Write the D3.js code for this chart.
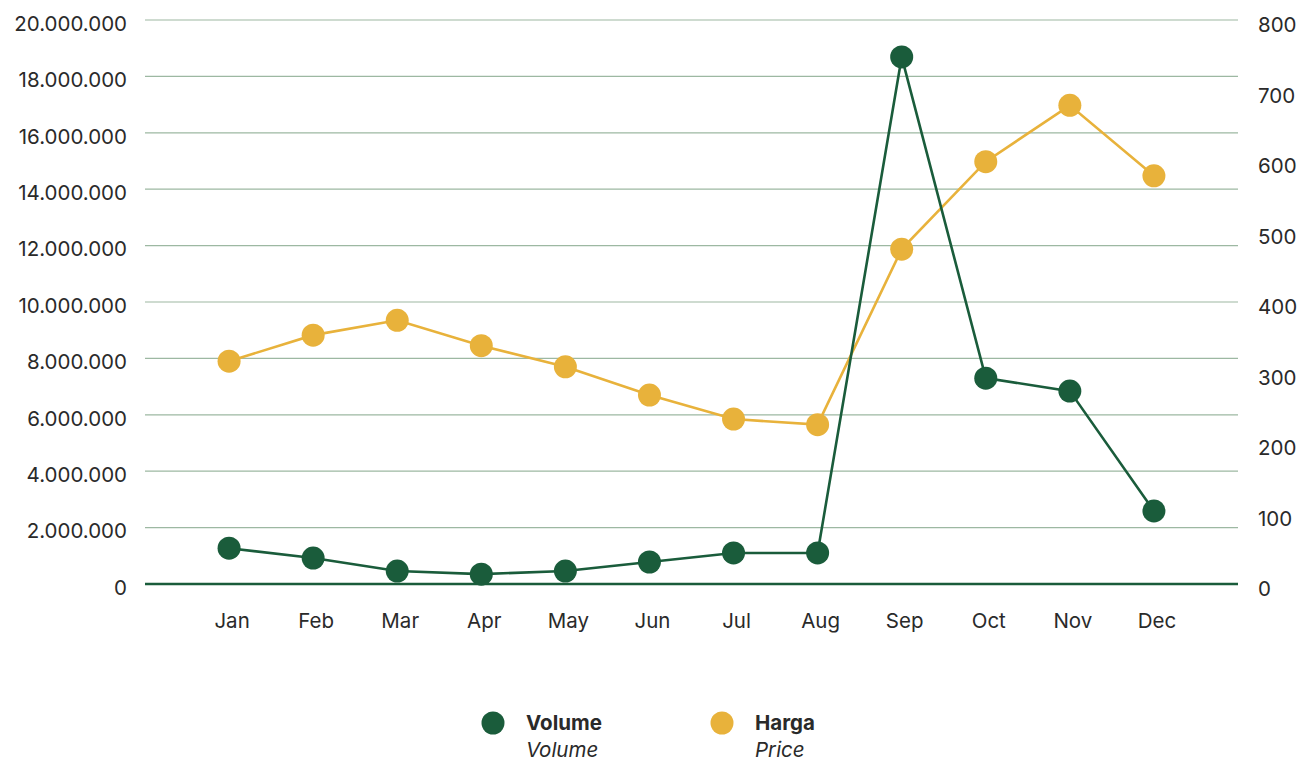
<!DOCTYPE html>
<html>
<head>
<meta charset="utf-8">
<script src="https://cdn.jsdelivr.net/npm/d3@7"></script>
<style>
  body { margin: 0; background: #fff; }
  svg text { font-family: "Inter", "Noto Sans", sans-serif; }
  .axis text { font-size: 20.5px; fill: #2a2a2a; }
  .legend text { font-size: 20.5px; fill: #2a2a2a; }
</style>
</head>
<body>
<svg id="chart" width="1312" height="763"></svg>
<script>
var months = ["Jan", "Feb", "Mar", "Apr", "May", "Jun", "Jul", "Aug", "Sep", "Oct", "Nov", "Dec"];
var volume = [1270000, 920000, 460000, 350000, 460000, 780000, 1100000, 1100000, 18690000, 7300000, 6840000, 2590000];
var harga = [316, 353, 374, 338, 308, 268, 234, 226, 475, 599, 679, 579];
var leftTicks = [0, 2000000, 4000000, 6000000, 8000000, 10000000, 12000000, 14000000, 16000000, 18000000, 20000000];
var rightTicks = [0, 100, 200, 300, 400, 500, 600, 700, 800];

var green = "#1a5c3b", yellow = "#e8b23b", grid = "#9db8a2";
var margin = {left: 145, right: 74, top: 20, bottom: 179},
    W = 1312, H = 763,
    width = W - margin.left - margin.right,
    height = H - margin.top - margin.bottom;

var svg = d3.select("#chart").append("g")
  .attr("transform", "translate(" + margin.left + "," + margin.top + ")");

var x = d3.scalePoint().domain(months).range([0, width]).padding(1);
var yL = d3.scaleLinear().domain([0, 20000000]).range([height, 0]);
var yR = d3.scaleLinear().domain([0, 800]).range([height, 0]);

var fmt = function(v) { return d3.format(",")(v).replace(/,/g, "."); };

// gridlines
svg.selectAll(".grid").data(leftTicks.slice(1))
  .enter().append("line")
  .attr("class", "grid")
  .attr("x1", 0).attr("x2", width)
  .attr("y1", function(d) { return yL(d); })
  .attr("y2", function(d) { return yL(d); })
  .style("stroke", grid).style("stroke-width", 1.2);

svg.append("line")
  .attr("x1", 0).attr("x2", width)
  .attr("y1", yL(0)).attr("y2", yL(0))
  .style("stroke", green).style("stroke-width", 2.5);

// axes, lines hidden, labels only
var leftAxis = svg.append("g").attr("class", "axis")
  .call(d3.axisLeft(yL).tickValues(leftTicks).tickFormat(fmt).tickSize(0).tickPadding(18));
leftAxis.select(".domain").remove();
leftAxis.selectAll("text").attr("dy", "0.5em");

var rightAxis = svg.append("g").attr("class", "axis")
  .attr("transform", "translate(" + width + ",0)")
  .call(d3.axisRight(yR).tickValues(rightTicks).tickSize(0).tickPadding(20));
rightAxis.select(".domain").remove();
rightAxis.selectAll("text").attr("dy", "0.58em");

var xAxis = svg.append("g").attr("class", "axis")
  .attr("transform", "translate(0," + height + ")")
  .call(d3.axisBottom(x).tickSize(0).tickPadding(27));
xAxis.select(".domain").remove();
xAxis.selectAll("text").attr("dx", "2.5").attr("dy", "0.85em");

// series
function series(data, y, color) {
  svg.append("path")
    .datum(data)
    .style("fill", "none")
    .style("stroke", color)
    .style("stroke-width", 2.6)
    .attr("d", d3.line()
      .x(function(d, i) { return x(months[i]); })
      .y(function(d) { return y(d); }));
  svg.selectAll(null).data(data)
    .enter().append("circle")
    .attr("cx", function(d, i) { return x(months[i]); })
    .attr("cy", function(d) { return y(d); })
    .attr("r", 11.5)
    .style("fill", color);
}
series(harga, yR, yellow);
series(volume, yL, green);

// legend
var legendItems = [
  {name: "Volume", sub: "Volume", color: green, x: 493},
  {name: "Harga", sub: "Price", color: yellow, x: 722}
];
var legend = d3.select("#chart").append("g").attr("class", "legend");
var li = legend.selectAll("g").data(legendItems).enter().append("g")
  .attr("transform", function(d) { return "translate(" + d.x + ",723)"; });
li.append("circle").attr("r", 11.5).style("fill", function(d) { return d.color; });
li.append("text").attr("x", 33).attr("dy", "0.35em")
  .style("font-weight", "bold")
  .text(function(d) { return d.name; });
li.append("text").attr("x", 33).attr("y", 27).attr("dy", "0.35em")
  .style("font-style", "italic")
  .text(function(d) { return d.sub; });
</script>
</body>
</html>
